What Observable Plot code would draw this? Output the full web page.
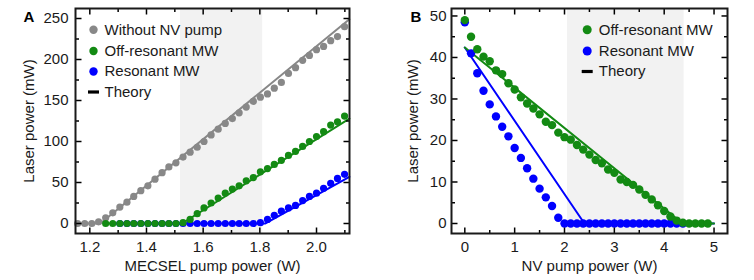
<!DOCTYPE html>
<html><head><meta charset="utf-8">
<script src="https://cdn.jsdelivr.net/npm/d3@7"></script>
<script src="https://cdn.jsdelivr.net/npm/@observablehq/plot@0.6"></script>
<style>
body{margin:0;background:#fff;}
#wrap{position:relative;width:754px;height:280px;}
#a,#b{position:absolute;top:0;}
#a{left:0}#b{left:377px}
</style></head><body>
<div id="wrap"><div id="a"></div><div id="b"></div></div>
<script>
// ---------- Panel A data ----------
const aPump = [1.157,1.182,1.207,1.231,1.256,1.281,1.306,1.331,1.355,1.380,1.405,1.430,1.455,1.479,1.504,1.529,1.554,1.579,1.603,1.628,1.653,1.678,1.703,1.727,1.752,1.777,1.802,1.827,1.851,1.876,1.901,1.926,1.951,1.975,2.000,2.025,2.050,2.074,2.099];
const aWithout = [0,0,0,2,7,13,20,26,33,40,46,54,62,69,74,81,87,93,100,108,115,122,128,135,142,149,154,158,165,172,183,190,199,205,212,216,223,228,240];
const aOffRes = [null,null,null,null,0,0,0,0,0,0,0,0,0,0,0,1,5,12,19,25,31,37,42,46,52,56,63,67,72,77,83,88,94,100,106,112,120,124,131];
const aRes = [null,null,null,null,null,null,0,0,0,0,0,0,0,0,0,0,0,0,0,0,0,0,0,0,0,0,1,5,10,15,19,22,28,33,37,43,49,55,60];
const aTheoryWithout = [[1.157,0],[1.237,0],[2.116,249]];
const aTheoryOff = [[1.256,0],[1.525,0],[2.116,128]];
const aTheoryRes = [[1.306,0],[1.82,0],[2.116,57]];
const aShade = [1.52, 1.81];
const aXTicks = [1.2,1.4,1.6,1.8,2.0];
const aXMinor = [1.3,1.5,1.7,1.9,2.1];
const aYTicks = [0,50,100,150,200,250];
const aYMinor = [25,75,125,175,225];
const aLegend = ["Without NV pump","Off-resonant MW","Resonant MW","Theory"];

// ---------- Panel B data ----------
const bPump = [0,0.125,0.25,0.375,0.5,0.625,0.75,0.875,1,1.125,1.25,1.375,1.5,1.625,1.75,1.875,2,2.125,2.25,2.375,2.5,2.625,2.75,2.875,3,3.125,3.25,3.375,3.5,3.625,3.75,3.875,4,4.125,4.25,4.375,4.5,4.625,4.75,4.875];
const bOffRes = [49,45,42,40.2,39.1,36.9,36,33.8,32.3,30.4,28.9,27.7,26.3,24.5,23.7,21.9,20.8,20.2,18.9,17.8,16.6,15.3,14.5,13,12.2,10.6,10,9.3,8.2,6.9,5.8,4.4,3,1.7,0.7,0.2,0,0,0,0];
const bRes = [48.5,41,36.2,32,28.7,25.8,23.3,21,18.2,15.8,13.3,10.8,8.4,6.3,4.2,1.4,0,0,0,0,0,0,0,0,0,0,0,0,0,0,0,0,0,0,0,0,null,null,null,null];
const bTheoryOff = [[0,42.4],[4.37,0],[5.0,0]];
const bTheoryRes = [[0,42.4],[2.4,0],[5.0,0]];
const bShade = [2.06, 4.40];
const bXTicks = [0,1,2,3,4,5];
const bXMinor = [0.5,1.5,2.5,3.5,4.5];
const bYTicks = [0,10,20,30,40,50];
const bYMinor = [5,15,25,35,45];
const bLegend = ["Off-resonant MW","Resonant MW","Theory"];

const GRAY = "#888888", GREEN = "#138a13", BLUE = "#0000ff", INK = "#1a1a1a";
const FONT = "'Liberation Sans', Arial, Helvetica, sans-serif";
const bar = {draw(ctx){ ctx.rect(-5.5,-1.6,11,3.2); }};
function seg(dx, dy){ return {draw(ctx){ ctx.moveTo(0,0); ctx.lineTo(dx,dy); }}; }

function pts(xs, ys){ return xs.map((x,i)=>({x, y: ys[i]})).filter(d=>d.y!=null); }

function frameTicks(xMaj, xMin, yMaj, yMin){
  const L=6, l=3.5, s={stroke:"#000", strokeWidth:1.5, fill:"none"};
  return [
    Plot.dot(xMaj,{x:d=>d, frameAnchor:"bottom", symbol:seg(0,-L), ...s}),
    Plot.dot(xMaj,{x:d=>d, frameAnchor:"top", symbol:seg(0,L), ...s}),
    Plot.dot(xMin,{x:d=>d, frameAnchor:"bottom", symbol:seg(0,-l), ...s}),
    Plot.dot(xMin,{x:d=>d, frameAnchor:"top", symbol:seg(0,l), ...s}),
    Plot.dot(yMaj,{y:d=>d, frameAnchor:"left", symbol:seg(L,0), ...s}),
    Plot.dot(yMaj,{y:d=>d, frameAnchor:"right", symbol:seg(-L,0), ...s}),
    Plot.dot(yMin,{y:d=>d, frameAnchor:"left", symbol:seg(l,0), ...s}),
    Plot.dot(yMin,{y:d=>d, frameAnchor:"right", symbol:seg(-l,0), ...s})
  ];
}

function legend(labels, colors, dxDot, dxText, dys, r){
  const marks = [];
  labels.forEach((t,i)=>{
    if (colors[i] === null) {
      marks.push(Plot.dot([t],{frameAnchor:"top-left", dx:dxDot, dy:dys[i], symbol:bar, r:4, fill:"#000", stroke:"none"}));
    } else {
      marks.push(Plot.dot([t],{frameAnchor:"top-left", dx:dxDot, dy:dys[i], r, fill:colors[i], stroke:"none"}));
    }
    marks.push(Plot.text([t],{frameAnchor:"top-left", dx:dxText, dy:dys[i], text:d=>d, textAnchor:"start", lineAnchor:"middle", fill:INK, fontSize:15}));
  });
  return marks;
}

// ---------- Panel A ----------
const AW=377, AH=280, aML=75, aMR=28, aMT=8, aMB=47;
const plotA = Plot.plot({
  width:AW, height:AH, marginLeft:aML, marginRight:aMR, marginTop:aMT, marginBottom:aMB,
  style:{fontFamily:FONT, fontSize:"15px", color:INK, background:"transparent"},
  x:{domain:[1.1495,2.1164]},
  y:{domain:[-12.2,262.2]},
  marks:[
    Plot.rect([aShade],{x1:d=>d[0], x2:d=>d[1], fill:"#f2f2f2"}),
    Plot.line(aTheoryWithout,{stroke:GRAY, strokeWidth:2}),
    Plot.line(aTheoryRes,{stroke:BLUE, strokeWidth:2}),
    Plot.line(aTheoryOff,{stroke:GREEN, strokeWidth:2}),
    Plot.dot(pts(aPump,aWithout),{x:"x", y:"y", r:3.6, fill:GRAY}),
    Plot.dot(pts(aPump,aRes),{x:"x", y:"y", r:3.6, fill:BLUE}),
    Plot.dot(pts(aPump,aOffRes),{x:"x", y:"y", r:3.6, fill:GREEN}),
    ...frameTicks(aXTicks,aXMinor,aYTicks,aYMinor),
    Plot.frame({stroke:INK, strokeWidth:2}),
    Plot.axisX(aXTicks,{tickSize:0, tickPadding:8, tickFormat:d3.format(".1f"), label:null, fill:INK}),
    Plot.axisY(aYTicks,{tickSize:0, tickPadding:7, fill:INK, label:"Laser power (mW)", labelArrow:"none", labelAnchor:"center", labelOffset:52}),
    Plot.text(["MECSEL pump power (W)"],{frameAnchor:"bottom", dy:33, text:d=>d, lineAnchor:"middle", fill:INK, fontSize:15}),
    Plot.text(["A"],{frameAnchor:"top-left", dx:-52, dy:3, text:d=>d, textAnchor:"start", lineAnchor:"top", fontWeight:"bold", fontSize:15, fill:"#000"}),
    ...legend(aLegend,[GRAY,GREEN,BLUE,null],18,29,[21.3,42.5,63,83.5],4.2)
  ]
});
document.getElementById("a").appendChild(plotA);

// ---------- Panel B ----------
const BW=377, BH=280, bML=74, bMR=27, bMT=8, bMB=47;
const plotB = Plot.plot({
  width:BW, height:BH, marginLeft:bML, marginRight:bMR, marginTop:bMT, marginBottom:bMB,
  style:{fontFamily:FONT, fontSize:"15px", color:INK, background:"transparent"},
  x:{domain:[-0.267,5.27]},
  y:{domain:[-2.41,51.8]},
  marks:[
    Plot.rect([bShade],{x1:d=>d[0], x2:d=>d[1], fill:"#f2f2f2"}),
    Plot.line(bTheoryRes,{stroke:BLUE, strokeWidth:2}),
    Plot.line(bTheoryOff,{stroke:GREEN, strokeWidth:2}),
    Plot.dot(pts(bPump,bRes),{x:"x", y:"y", r:4.2, fill:BLUE}),
    Plot.dot(pts(bPump,bOffRes),{x:"x", y:"y", r:4.2, fill:GREEN}),
    ...frameTicks(bXTicks,bXMinor,bYTicks,bYMinor),
    Plot.frame({stroke:INK, strokeWidth:2}),
    Plot.axisX(bXTicks,{tickSize:0, tickPadding:8, tickFormat:d3.format("d"), label:null, fill:INK}),
    Plot.axisY(bYTicks,{tickSize:0, tickPadding:5, fill:INK, label:"Laser power (mW)", labelArrow:"none", labelAnchor:"center", labelOffset:44}),
    Plot.text(["NV pump power (W)"],{frameAnchor:"bottom", dy:33, text:d=>d, lineAnchor:"middle", fill:INK, fontSize:15}),
    Plot.text(["B"],{frameAnchor:"top-left", dx:-41, dy:3, text:d=>d, textAnchor:"start", lineAnchor:"top", fontWeight:"bold", fontSize:15, fill:"#000"}),
    ...legend(bLegend,[GREEN,BLUE,null],135.7,147.3,[21.3,42.5,63],4.5)
  ]
});
document.getElementById("b").appendChild(plotB);
</script></body></html>
